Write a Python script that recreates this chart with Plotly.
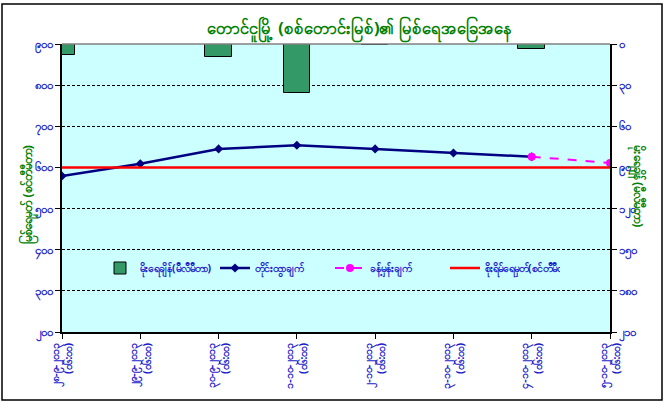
import plotly.graph_objects as go

# ---- data ----
dates = ["၂၈-၉-၂၀၁၃", "၂၉-၉-၂၀၁၃", "၃၀-၉-၂၀၁၃", "၁-၁၀-၂၀၁၃",
         "၂-၁၀-၂၀၁၃", "၃-၁၀-၂၀၁၃", "၄-၁၀-၂၀၁၃", "၅-၁၀-၂၀၁၃"]
times = ["(၀၆:၀၀)"] * 8
rain_mm = [8, 0, 9.5, 36, 1, 0, 3.5, 0]
level_obs = [579, 609, 645, 654, 645, 635, 626, None]
level_fc = [None, None, None, None, None, None, 626, 611]
warning_level = [600] * 8

left_ticks = [200, 300, 400, 500, 600, 700, 800, 900]
left_labels = ["၂၀၀", "၃၀၀", "၄၀၀", "၅၀၀", "၆၀၀", "၇၀၀", "၈၀၀", "၉၀၀"]
right_ticks = [0, 30, 60, 90, 120, 150, 180, 210]
right_labels = ["၀", "၃၀", "၆၀", "၉၀", "၁၂၀", "၁၅၀", "၁၈၀", "၂၁၀"]

title = "တောင်ငူမြို့ (စစ်တောင်းမြစ်)၏ မြစ်ရေအခြေအနေ"
left_title = "မြစ်ရေမှတ် (စင်တီမီတာ)"
right_title = "မိုးရေချိန် (မီလီမီတာ)"
names = ["မိုးရေချိန်(မီလီမီတာ)", "တိုင်းထွာချက်", "ခန့်မှန်းချက်", "စိုးရိမ်ရေမှတ်(စင်တီမီတာ)"]

xpos = list(range(len(dates)))
xlabels = [f"<b>{d}<br>{t}</b>" for d, t in zip(dates, times)]

FONT = "Noto Sans, DejaVu Sans, sans-serif"
BLUE = "#1a1acc"
GREEN = "#008000"

fig = go.Figure()
fig.add_trace(go.Bar(x=xpos, y=rain_mm, width=0.34, name=f"<b>{names[0]}</b>", yaxis="y",
                     marker=dict(color="#339966", line=dict(color="black", width=1))))
fig.add_trace(go.Scatter(x=xpos, y=level_obs, name=f"<b>{names[1]}</b>", yaxis="y2",
                         mode="lines+markers", line=dict(color="#000080", width=2.5),
                         marker=dict(symbol="diamond", size=7, color="#000080")))
fig.add_trace(go.Scatter(x=xpos, y=level_fc, name=f"<b>{names[2]}</b>", yaxis="y2",
                         mode="lines+markers", line=dict(color="#ff00ff", width=2, dash="dash"),
                         marker=dict(symbol="circle", size=8, color="#ff00ff")))
fig.add_trace(go.Scatter(x=xpos, y=warning_level, name=f"<b>{names[3]}</b>", yaxis="y2",
                         mode="lines", line=dict(color="#ff0000", width=2.5)))

W, H = 667, 405
L, R, T, B = 62, 57, 44, 73
pw, ph = W - L - R, H - T - B

def px_x(x):
    return (x - L) / pw

def px_y(y):
    return (H - B - y) / ph

fig.update_layout(
    width=W, height=H,
    margin=dict(l=L, r=R, t=T, b=B),
    paper_bgcolor="white", plot_bgcolor="#ccffff",
    font=dict(family=FONT, color=BLUE, size=11),
    showlegend=True,
    legend=dict(orientation="h", x=px_x(100), y=px_y(268), xanchor="left", yanchor="middle",
                bgcolor="rgba(0,0,0,0)", font=dict(size=10.5, color=BLUE),
                entrywidth=70, traceorder="normal"),
    xaxis=dict(range=[0, 7], tickvals=xpos, ticktext=xlabels, tickangle=-90,
               showline=True, linecolor="black", linewidth=1.5, ticks="outside",
               ticklen=5, tickcolor="black", showgrid=False, zeroline=False,
               tickfont=dict(size=10.5, color=BLUE)),
    yaxis=dict(range=[210, 0], side="right", tickvals=right_ticks,
               ticktext=[f"<b>{t}</b>" for t in right_labels],
               showline=True, linecolor="black", linewidth=1.5, ticks="outside",
               ticklen=5, tickcolor="black", showgrid=True, gridcolor="black",
               griddash="3px,2px", gridwidth=1, zeroline=False,
               tickfont=dict(size=11.5, color=BLUE)),
    yaxis2=dict(range=[200, 900], overlaying="y", side="left", tickvals=left_ticks,
                ticktext=[f"<b>{t}</b>" for t in left_labels],
                showline=True, linecolor="black", linewidth=1.5,
                ticks="outside", ticklen=5, tickcolor="black", showgrid=False,
                zeroline=False, tickfont=dict(size=11.5, color=BLUE)),
    bargap=0,
)

# title & axis titles as annotations
fig.add_annotation(text=f"<b>{title}</b>", xref="paper", yref="paper",
                   x=px_x(359), y=px_y(14), showarrow=False,
                   font=dict(size=16.5, color=GREEN, family=FONT))
fig.add_annotation(text=f"<b>{left_title}</b>", xref="paper", yref="paper", x=px_x(15),
                   y=px_y(195), textangle=-90, showarrow=False,
                   font=dict(size=12, color=GREEN))
fig.add_annotation(text=f"<b>{right_title}</b>", xref="paper", yref="paper", x=px_x(649),
                   y=px_y(185), textangle=90, showarrow=False,
                   font=dict(size=12, color=GREEN))

# top plot border (gray) and outer chart frame
fig.add_shape(type="line", xref="paper", yref="paper", x0=0, x1=1, y0=1, y1=1,
              line=dict(color="#808080", width=1.5))
fig.add_shape(type="rect", xref="paper", yref="paper",
              x0=px_x(2), x1=px_x(662), y0=px_y(400), y1=px_y(4),
              line=dict(color="black", width=1.5))

fig.write_html("out.html", post_script="document.body.style.margin='0';",
               config={"displayModeBar": False})
